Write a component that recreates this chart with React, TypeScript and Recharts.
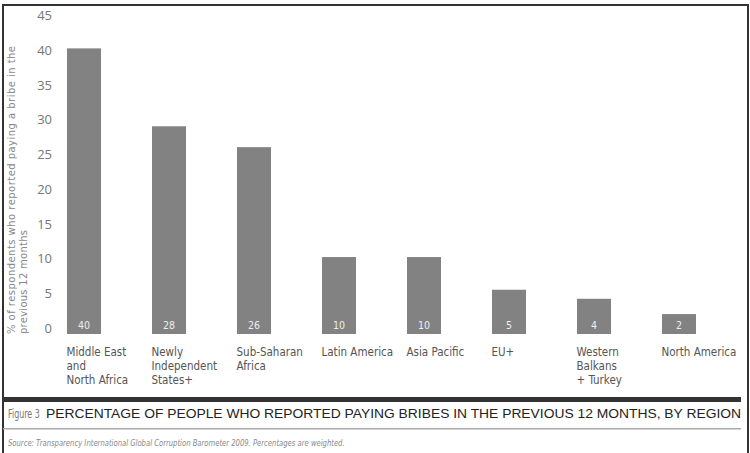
import React from "react";
import { BarChart, Bar, XAxis, YAxis, LabelList } from "recharts";

const categories = [
  "Middle East\nand\nNorth Africa",
  "Newly\nIndependent\nStates+",
  "Sub-Saharan\nAfrica",
  "Latin America",
  "Asia Pacific",
  "EU+",
  "Western\nBalkans\n+ Turkey",
  "North America",
];
const barHeights = [40.2, 29.0, 26.0, 10.2, 10.2, 5.5, 4.2, 2.0];
const valueLabels = ["40", "28", "26", "10", "10", "5", "4", "2"];
const yTicks = [0, 5, 10, 15, 20, 25, 30, 35, 40, 45];
const yTitleLines = [
  "% of respondents who reported paying a bribe in the",
  "previous 12 months",
];
const figureNo = "Figure 3";
const captionText =
  "PERCENTAGE OF PEOPLE WHO REPORTED PAYING BRIBES IN THE PREVIOUS 12 MONTHS, BY REGION";
const sourceText =
  "Source: Transparency International Global Corruption Barometer 2009. Percentages are weighted.";

const data = categories.map((c, i) => ({
  name: c,
  value: barHeights[i],
  label: valueLabels[i],
}));

const BAR_W = 34;
const COND = "'DejaVu Sans Condensed', sans-serif";

const BarShape = (p: any) => (
  <rect x={p.x} y={p.y} width={p.width} height={p.height + 6} fill="#828282" />
);

const XTick = (p: any) => {
  const lines = String(p.payload.value).split("\n");
  return (
    <text
      x={p.x - BAR_W / 2}
      y={p.y}
      textAnchor="start"
      fontFamily={COND}
      fontSize={11.5}
      fill="#555"
    >
      {lines.map((l, i) => (
        <tspan key={i} x={p.x - BAR_W / 2} dy={i === 0 ? 20 : 14}>
          {l}
        </tspan>
      ))}
    </text>
  );
};

const YTick = (p: any) => (
  <text
    x={52}
    y={p.y}
    dy={5}
    textAnchor="end"
    fontFamily="'Open Sans', sans-serif"
    fontSize={13}
    fill="#777"
  >
    {p.payload.value}
  </text>
);

const ValueLabel = (p: any) => {
  const { x, y, width, height, index } = p;
  return (
    <text
      x={x + width / 2}
      y={y + height}
      dy={1}
      textAnchor="middle"
      fontFamily={COND}
      fontSize={10.5}
      fill="#eeeeee"
    >
      {valueLabels[index]}
    </text>
  );
};

export default function App() {
  return (
    <div
      style={{
        position: "absolute",
        left: 0,
        top: 0,
        width: 750,
        height: 453,
        background: "#fff",
        overflow: "hidden",
      }}
    >
      <BarChart
        width={750}
        height={453}
        data={data}
        margin={{ top: 15, right: 29, bottom: 0, left: 0 }}
      >
        <XAxis
          dataKey="name"
          axisLine={false}
          tickLine={false}
          interval={0}
          height={125}
          tick={<XTick />}
        />
        <YAxis
          width={41}
          domain={[0, 45]}
          ticks={yTicks}
          axisLine={false}
          tickLine={false}
          interval={0}
          tick={<YTick />}
        />
        <Bar
          dataKey="value"
          barSize={BAR_W}
          isAnimationActive={false}
          shape={<BarShape />}
        >
          <LabelList dataKey="label" content={<ValueLabel />} />
        </Bar>
      </BarChart>
      <svg
        width={750}
        height={453}
        style={{ position: "absolute", left: 0, top: 0, pointerEvents: "none" }}
      >
        <line x1={3} y1={5} x2={748} y2={5} stroke="#333" strokeWidth={2} />
        <line x1={3} y1={4} x2={3} y2={453} stroke="#333" strokeWidth={2} />
        <line x1={748} y1={4} x2={748} y2={453} stroke="#333" strokeWidth={2} />
        <text
          transform="translate(15,334) rotate(-90)"
          fontFamily="'DejaVu Sans', sans-serif"
          fontSize={10}
          fill="#888"
          textLength={288}
          lengthAdjust="spacing"
        >
          {yTitleLines[0]}
        </text>
        <text
          transform="translate(27,334) rotate(-90)"
          fontFamily="'DejaVu Sans', sans-serif"
          fontSize={10}
          fill="#888"
          textLength={104}
          lengthAdjust="spacing"
        >
          {yTitleLines[1]}
        </text>
        <rect x={3} y={397} width={738} height={5} fill="#333" />
        <text
          transform="translate(8,418) scale(0.68,1)"
          fontFamily={COND}
          fontSize={13}
          fill="#777"
        >
          {figureNo}
        </text>
        <text
          x={46}
          y={418}
          fontFamily="'Liberation Sans', Arial, sans-serif"
          fontSize={13.5}
          fill="#222"
          textLength={695}
          lengthAdjust="spacingAndGlyphs"
        >
          {captionText}
        </text>
        <rect x={3} y={428} width={738} height={1.5} fill="#aaa" />
        <text
          transform="translate(8,446) scale(0.8,1)"
          fontFamily={COND}
          fontSize={9.5}
          fontStyle="italic"
          fill="#888"
        >
          {sourceText}
        </text>
      </svg>
    </div>
  );
}
